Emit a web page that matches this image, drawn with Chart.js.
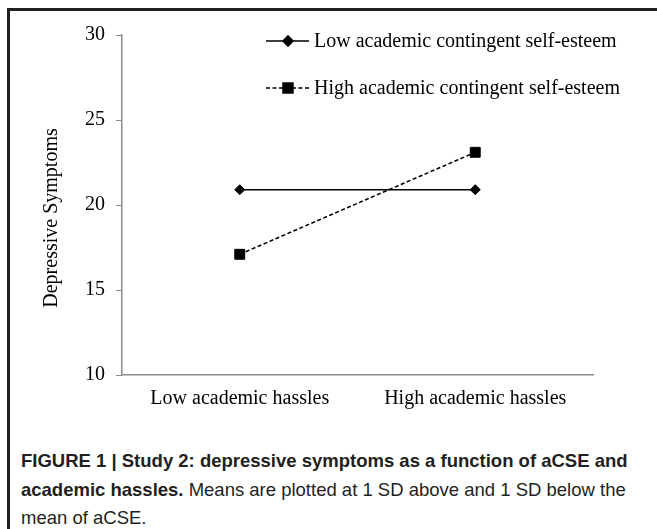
<!DOCTYPE html>
<html>
<head>
<meta charset="utf-8">
<script src="https://cdn.jsdelivr.net/npm/chart.js@4"></script>
<style>
  html, body { margin: 0; padding: 0; background: #fff; width: 657px; height: 529px; overflow: hidden; }
  #frame { position: absolute; left: 7px; top: 8px; width: 700px; height: 600px; border-left: 3px solid #231f20; border-top: 3px solid #231f20; box-sizing: border-box; }
  #wrap { position: absolute; left: 0; top: 0; width: 657px; height: 430px; }
  #caption { position: absolute; left: 21px; top: 447px; font-family: "Liberation Sans", Arial, sans-serif; font-size: 18.5px; line-height: 28.5px; color: #231f20; white-space: nowrap; }
  #caption b { font-weight: bold; }
</style>
</head>
<body>
<div id="frame"></div>
<div id="wrap"><canvas id="c" width="657" height="430"></canvas></div>
<div id="caption"><b>FIGURE 1 | Study 2: depressive symptoms as a function of aCSE and</b><br><b>academic hassles.</b> Means are plotted at 1 SD above and 1 SD below the<br>mean of aCSE.</div>
<script>
const categories = ["Low academic hassles", "High academic hassles"];
const seriesNames = ["Low academic contingent self-esteem", "High academic contingent self-esteem"];
const lowACSE = [20.9, 20.9];
const highACSE = [17.1, 23.1];
const yTicks = [10, 15, 20, 25, 30];
const yTitle = "Depressive Symptoms";

const SERIF = '"Liberation Serif", "Times New Roman", serif';
const AXIS = '#8c8c8c';

const overlay = {
  id: 'overlay',
  afterDraw(chart) {
    const ctx = chart.ctx;
    ctx.save();
    // y axis title
    ctx.fillStyle = '#000';
    ctx.font = '20px ' + SERIF;
    ctx.textAlign = 'center';
    ctx.textBaseline = 'middle';
    ctx.translate(52, 218);
    ctx.rotate(-Math.PI / 2);
    ctx.fillText(yTitle, 0, 0);
    ctx.restore();

    // legend
    const rows = [41, 88];
    chart.data.datasets.forEach((ds, i) => {
      const y = rows[i];
      ctx.save();
      ctx.strokeStyle = ds.borderColor;
      ctx.lineWidth = ds.borderWidth;
      ctx.setLineDash(ds.borderDash || []);
      ctx.beginPath();
      ctx.moveTo(266, y);
      ctx.lineTo(309, y);
      ctx.stroke();
      ctx.setLineDash([]);
      Chart.helpers.drawPoint(ctx, { pointStyle: ds.pointStyle, radius: ds.pointRadius, borderWidth: 1 }, 288, y);
      ctx.fill();
      ctx.fillStyle = '#000';
      ctx.font = '20px ' + SERIF;
      ctx.textAlign = 'left';
      ctx.textBaseline = 'middle';
      ctx.fillText(ds.label, 314, y + 1);
      ctx.restore();
    });
  }
};

new Chart(document.getElementById('c'), {
  type: 'line',
  data: {
    labels: categories,
    datasets: [
      { label: seriesNames[0], data: lowACSE, borderColor: '#000', backgroundColor: '#000', borderWidth: 1.6,
        pointStyle: 'rectRot', pointRadius: 5, pointBackgroundColor: '#000', pointBorderColor: '#000', pointBorderWidth: 1 },
      { label: seriesNames[1], data: highACSE, borderColor: '#000', backgroundColor: '#000', borderWidth: 1.6, borderDash: [4, 2.5],
        pointStyle: 'rect', pointRadius: 7, pointBackgroundColor: '#000', pointBorderColor: '#000', pointBorderWidth: 1 }
    ]
  },
  options: {
    responsive: false,
    animation: false,
    events: [],
    layout: { padding: { top: 35, right: 64, left: 0, bottom: 0 } },
    plugins: { legend: { display: false }, tooltip: { enabled: false } },
    scales: {
      x: {
        offset: true,
        grid: { display: true, drawOnChartArea: false, drawTicks: false },
        border: { color: AXIS, width: 1.5 },
        ticks: { color: '#000', font: { family: SERIF, size: 20 }, padding: 12 },
        afterFit(s) { s.height = 55; }
      },
      y: {
        min: 10, max: 30,
        afterBuildTicks(s) { s.ticks = yTicks.map(v => ({ value: v })); },
        grid: { drawOnChartArea: false, drawTicks: true, tickLength: 6, color: AXIS, lineWidth: 1 },
        border: { color: AXIS, width: 1.5 },
        ticks: { color: '#000', font: { family: SERIF, size: 20 }, padding: 11 },
        afterFit(s) { s.width = 122; }
      }
    }
  },
  plugins: [overlay]
});
</script>
</body>
</html>
